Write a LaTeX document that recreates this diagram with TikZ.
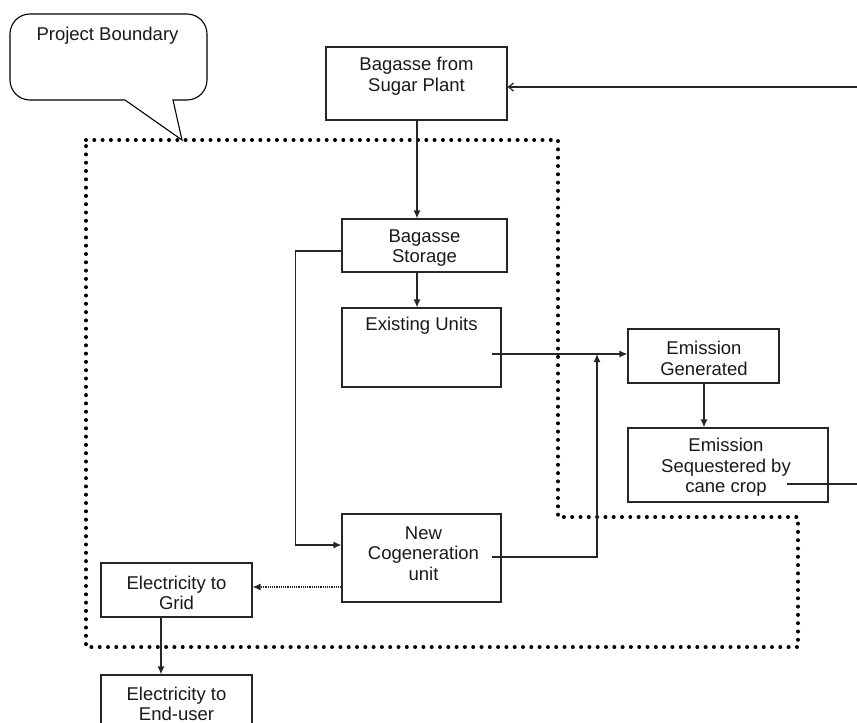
\documentclass[tikz,border=0pt]{standalone}
\usepackage{fontspec}
\setmainfont{Liberation Sans}
\usetikzlibrary{arrows.meta}
\begin{document}
\begin{tikzpicture}[x=1pt,y=-1pt,
  box/.style={draw=black!85, line width=1.2pt, inner sep=0pt},
  txt/.style={align=center, font=\fontsize{18.5}{20.5}\selectfont, text=black!90, inner sep=0pt},
  arr/.style={-{Latex[length=8pt,width=7pt]}, line width=1.2pt, draw=black!85},
  plain/.style={line width=1.2pt, draw=black!85},
  boundary/.style={line width=4pt, dash pattern=on 0pt off 8.3pt, line cap=round}]
\useasboundingbox (0,0) rectangle (857,723);
\clip (0,0) rectangle (857,723);

% callout
\draw[line width=1.1pt] (182,140) -- (173,100) [rounded corners=20pt] -- (207,100) -- (207,14) -- (10,14) -- (10,100) [sharp corners] -- (125,100) -- cycle;
\node[txt] (pbT) at (107.5,36) {Project Boundary};

% project boundary
\draw[boundary] (86,140) -- (558,140) -- (558,517) -- (798,517) -- (798,647) -- (86,647) -- cycle;

% boxes
\node[box, minimum width=181pt, minimum height=73pt] (bag) at (416.5,83.5) {};
\node[txt] (bagT) at (416.5,76) {Bagasse from\\Sugar Plant};

\node[box, minimum width=165pt, minimum height=53pt] (stor) at (424.5,245.5) {};
\node[txt] (storT) at (424.5,248) {Bagasse\\Storage};

\node[box, minimum width=159pt, minimum height=79pt] (exist) at (421.5,347.5) {};
\node[txt] (existT) at (421.5,326) {Existing Units};

\node[box, minimum width=151pt, minimum height=54pt] (emgen) at (703.5,356) {};
\node[txt] (emgenT) at (704,358.5) {Emission\\Generated};

\node[box, minimum width=200pt, minimum height=74pt] (emseq) at (728,465) {};
\node[txt] (emseqT) at (726,467.5) {Emission\\Sequestered by\\cane crop};

\node[box, minimum width=159pt, minimum height=88pt] (cogen) at (421.5,558) {};
\node[txt] (cogenT) at (423.5,553.5) {New\\Cogeneration\\unit};

\node[box, minimum width=151pt, minimum height=54pt] (grid) at (176.5,590) {};
\node[txt] (gridT) at (176.5,593) {Electricity to\\Grid};

\node[box, minimum width=151pt, minimum height=80pt] (enduser) at (176.5,715) {};
\node[txt] (enduserT) at (176.5,704) {Electricity to\\End-user};

% connectors
\coordinate (rin) at (857,87);
\draw[line width=1.2pt, draw=black!85, -{Straight Barb[length=5pt,width=8pt]}] (rin) -- (bag.east |- rin);

\coordinate (bx) at (417,0);
\draw[arr] (bx |- bag.south) -- (bx |- stor.north);
\draw[arr] (bx |- stor.south) -- (bx |- exist.north);

\coordinate (e1) at (492,354);
\draw[arr] (e1) -- (emgen.west |- e1);

\coordinate (gx) at (704,0);
\draw[arr] (gx |- emgen.south) -- (gx |- emseq.north);

\coordinate (s1) at (787,484);
\coordinate (rout) at (857,484);
\draw[plain] (s1) -- (rout);

\draw[arr] ([yshift=-5.5pt]stor.west) -- ++(-46,0) |- ([yshift=13pt]cogen.west);

\coordinate (c1) at (492,557);
\coordinate (j) at (597,354);
\draw[arr] (c1) -| (j);

\draw[line width=1.2pt, draw=black!85, densely dotted, -{Latex[length=8pt,width=7pt]}] ([yshift=-29pt]cogen.west) -- (grid.east |- 0,587);

\coordinate (ex) at (161,0);
\draw[arr] (ex |- grid.south) -- (ex |- enduser.north);
\end{tikzpicture}
\end{document}
